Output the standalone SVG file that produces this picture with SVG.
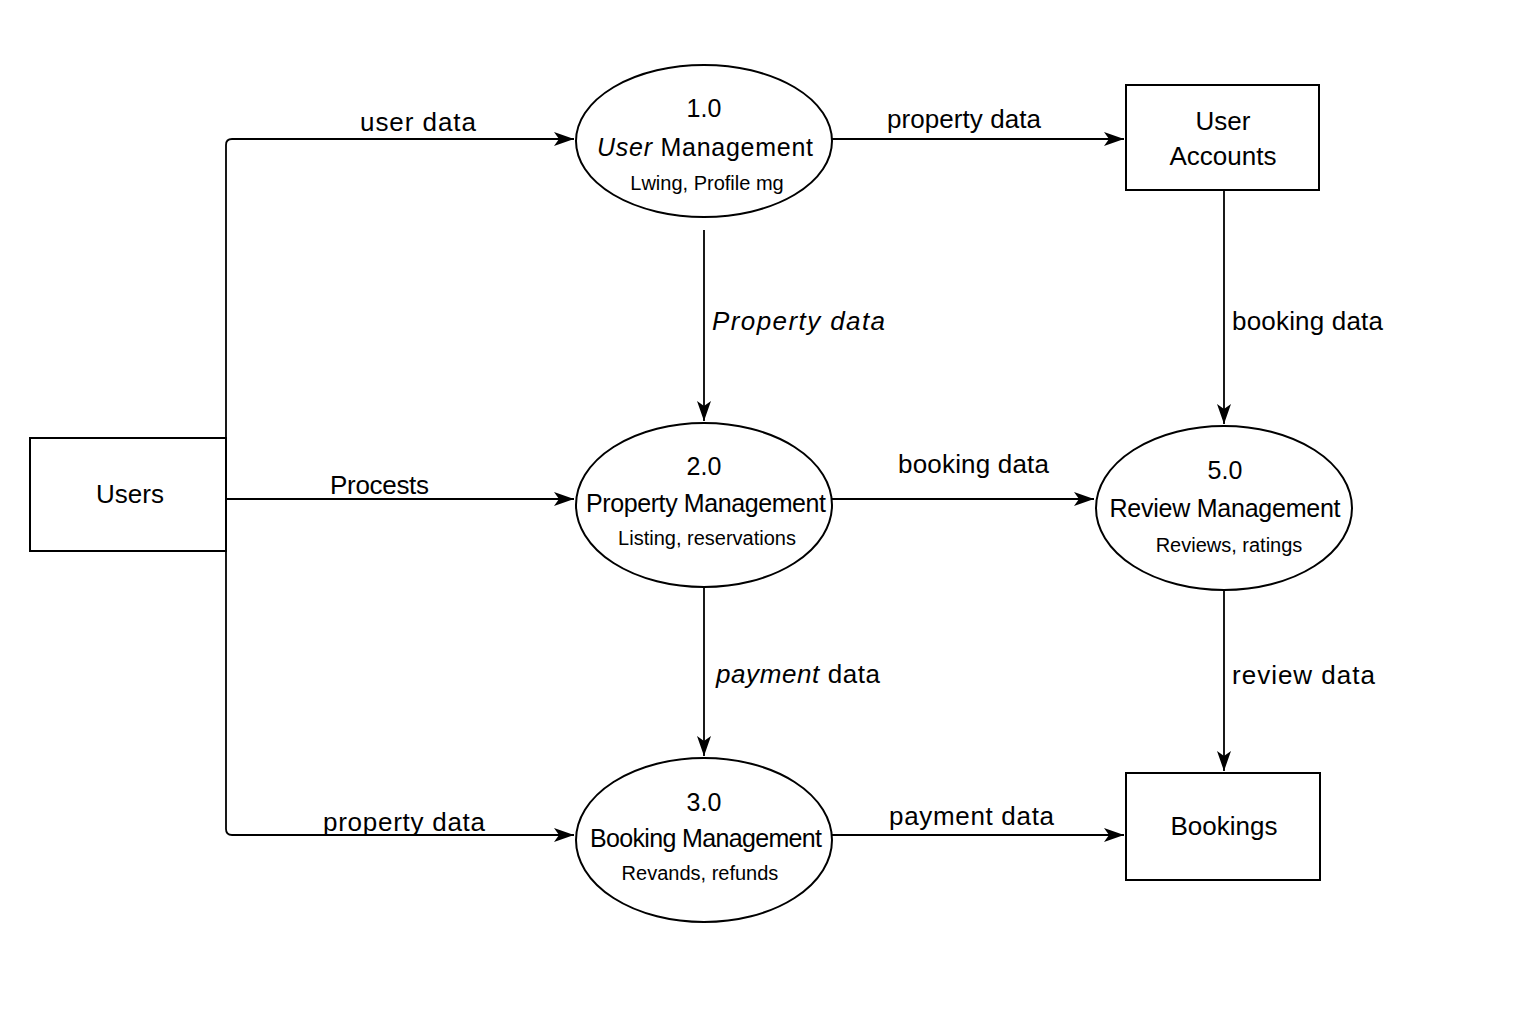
<svg xmlns="http://www.w3.org/2000/svg" width="1536" height="1024" viewBox="0 0 1536 1024">
<defs>
<style>
.shape{fill:#fff;stroke:#000;stroke-width:2}
.line{fill:none;stroke:#000;stroke-width:1.8}
text{font-family:"Liberation Sans",Arial,sans-serif;fill:#000}
.num{font-size:25px;text-anchor:middle}
.title{font-size:25px;text-anchor:middle}
.sub{font-size:20px;text-anchor:middle}
.lbl{font-size:26px}
.box{font-size:26px;text-anchor:middle}
</style>
<marker id="arr" markerWidth="22" markerHeight="16" refX="20" refY="8" orient="auto" markerUnits="userSpaceOnUse">
<path d="M0,1 L20,8 L0,15 L5,8 Z" fill="#000"/>
</marker>
</defs>
<rect width="1536" height="1024" fill="#fff"/>
<g id="connectors">
<path class="line" d="M226,438 V145 Q226,139 232,139 H574" marker-end="url(#arr)"/>
<path class="line" d="M226,551 V829 Q226,835 232,835 H574" marker-end="url(#arr)"/>
<path class="line" d="M226,499 H574" marker-end="url(#arr)"/>
<path class="line" d="M704,230 V421" marker-end="url(#arr)"/>
<path class="line" d="M704,588 V756" marker-end="url(#arr)"/>
<path class="line" d="M832,139 H1124" marker-end="url(#arr)"/>
<path class="line" d="M832,499 H1094" marker-end="url(#arr)"/>
<path class="line" d="M1224,190 V424" marker-end="url(#arr)"/>
<path class="line" d="M1224,590 V771" marker-end="url(#arr)"/>
<path class="line" d="M832,835 H1124" marker-end="url(#arr)"/>
<text class="lbl" x="360" y="131" textLength="116">user data</text>
<text class="lbl" x="330" y="494" textLength="99">Procests</text>
<text class="lbl" x="323" y="831" textLength="162">property data</text>
<text class="lbl" x="712" y="330" font-style="italic" textLength="173">Property data</text>
<text class="lbl" x="716" y="683" textLength="164"><tspan font-style="italic">payment</tspan> data</text>
<text class="lbl" x="887" y="128" textLength="154">property data</text>
<text class="lbl" x="898" y="473" textLength="151">booking data</text>
<text class="lbl" x="1232" y="330" textLength="151">booking data</text>
<text class="lbl" x="1232" y="684" textLength="143">review data</text>
<text class="lbl" x="889" y="825" textLength="165">payment data</text>
</g>
<g id="users">
<rect class="shape" x="30" y="438" width="196" height="113"/>
<text class="box" x="130" y="503">Users</text>
</g>
<g id="p1">
<ellipse class="shape" cx="704" cy="141" rx="128" ry="76"/>
<text class="num" x="704" y="117">1.0</text>
<text class="title" x="705" y="156" textLength="216"><tspan font-style="italic">User</tspan> Management</text>
<text class="sub" x="707" y="190">Lwing, Profile mg</text>
</g>
<g id="p2">
<ellipse class="shape" cx="704" cy="505" rx="128" ry="82"/>
<text class="num" x="704" y="475">2.0</text>
<text class="title" x="706" y="512" textLength="240">Property Management</text>
<text class="sub" x="707" y="545">Listing, reservations</text>
</g>
<g id="p3">
<ellipse class="shape" cx="704" cy="840" rx="128" ry="82"/>
<text class="num" x="704" y="811">3.0</text>
<text class="title" x="706" y="847" textLength="232">Booking Management</text>
<text class="sub" x="700" y="880">Revands, refunds</text>
</g>
<g id="p5">
<ellipse class="shape" cx="1224" cy="508" rx="128" ry="82"/>
<text class="num" x="1225" y="479">5.0</text>
<text class="title" x="1225" y="517" textLength="231">Review Management</text>
<text class="sub" x="1229" y="552">Reviews, ratings</text>
</g>
<g id="user-accounts">
<rect class="shape" x="1126" y="85" width="193" height="105"/>
<text class="box" x="1223" y="130">User</text>
<text class="box" x="1223" y="165">Accounts</text>
</g>
<g id="bookings">
<rect class="shape" x="1126" y="773" width="194" height="107"/>
<text class="box" x="1224" y="835">Bookings</text>
</g>
</svg>
